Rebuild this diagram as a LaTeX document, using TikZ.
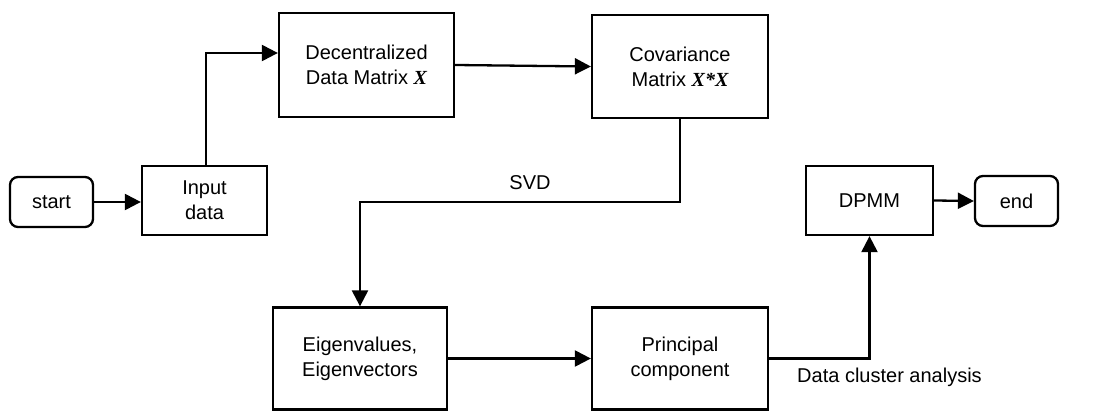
\documentclass[tikz,border=0pt]{standalone}
\usepackage{fontspec}
\setmainfont{Liberation Sans}
\newfontfamily\tnr{Liberation Serif}
\usetikzlibrary{arrows.meta}
\newcommand{\bx}[1]{{\tnr\bfseries\itshape #1}}
\tikzset{
  box/.style={draw, line width=2.3pt, align=center, inner sep=2pt,
    font=\fontsize{20}{25}\selectfont},
  term/.style={box, rounded corners=8pt},
  conn/.style={line width=2.3pt, -{Triangle[length=16pt,width=16pt]}},
  lbl/.style={font=\fontsize{20}{24}\selectfont, inner sep=0pt}
}
\begin{document}
\begin{tikzpicture}[x=1pt,y=-1pt]
\useasboundingbox (0,0) rectangle (1096,411);
\node[term, minimum width=83pt, minimum height=50pt] (start) at (51.5,202) {start};
\node[box, minimum width=125pt, minimum height=69pt] (input) at (204.5,200.5) {Input\\data};
\node[box, minimum width=175pt, minimum height=104pt] (dec) at (366.5,65) {Decentralized\\Data Matrix \bx{X}};
\node[box, minimum width=176pt, minimum height=103pt] (cov) at (680,66.5) {Covariance\\Matrix \bx{X*X}};
\node[box, minimum width=127pt, minimum height=69pt] (dpmm) at (869.5,200.5) {DPMM};
\node[term, minimum width=83pt, minimum height=50pt] (end) at (1016.5,201) {end};
\node[box, minimum width=174pt, minimum height=102pt] (eig) at (360,358.5) {Eigenvalues,\\Eigenvectors};
\node[box, minimum width=176pt, minimum height=102pt] (pc) at (680,358.5) {Principal\\component};
\coordinate (svdy) at (0,202);
\node[lbl] (svd) at (530,183) {SVD};
\node[lbl] (dca) at (889.5,377) {Data cluster analysis};
\draw[conn] (start.east) -- (start.east -| input.west);
\draw[conn] ([xshift=1.5pt]input.north) |- ([yshift=12pt]dec.west);
\draw[conn] (dec.east) -- (cov.west);
\draw[conn] (cov.south) -- (cov.south |- svdy) -| (eig.north);
\draw[conn] (eig.east) -- (pc.west);
\draw[conn] (pc.east) -| (dpmm.south);
\draw[conn] (dpmm.east) -- (end.west);
\end{tikzpicture}
\end{document}
